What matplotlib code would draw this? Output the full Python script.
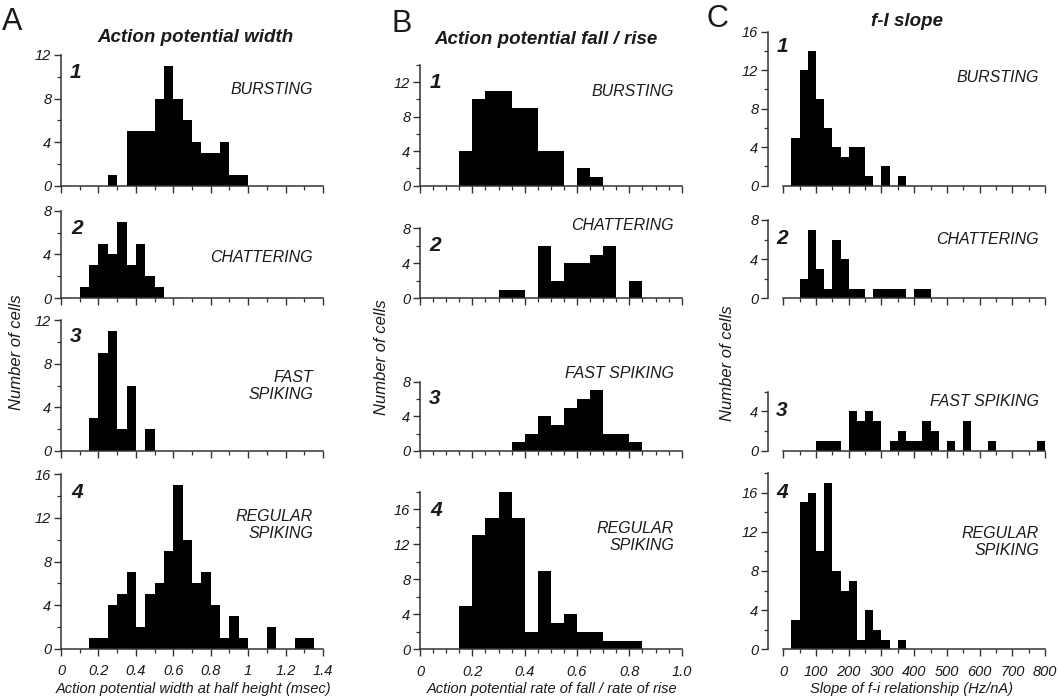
import numpy as np
import matplotlib
matplotlib.use('Agg')
import matplotlib.pyplot as plt
from matplotlib.ticker import MultipleLocator, FixedLocator

plt.rcParams['font.family'] = ['Liberation Sans', 'DejaVu Sans']

# ---- bin counts ----
# A: action potential width at half height (msec), bins of 0.05
width_bin = 0.05
width_starts = [0.25, 0.10, 0.15, 0.15]
width_bursting = [1, 0, 5, 5, 5, 8, 11, 8, 6, 4, 3, 3, 4, 1, 1]
width_chattering = [1, 3, 5, 4, 7, 3, 5, 2, 1]
width_fast = [3, 9, 11, 2, 6, 0, 2]
width_regular = [1, 1, 4, 5, 7, 2, 5, 6, 9, 15, 10, 6, 7, 4, 1, 3, 1, 0, 0, 2, 0, 0, 1, 1]

# B: rate of fall / rate of rise, bins of 0.05
ratio_bin = 0.05
ratio_starts = [0.15, 0.30, 0.35, 0.15]
ratio_bursting = [4, 10, 11, 11, 9, 9, 4, 4, 0, 2, 1]
ratio_chattering = [1, 1, 0, 6, 2, 4, 4, 5, 6, 0, 2]
ratio_fast = [1, 2, 4, 3, 5, 6, 7, 2, 2, 1]
ratio_regular = [5, 13, 15, 18, 15, 2, 9, 3, 4, 2, 2, 1, 1, 1]

# C: f-I slope (Hz/nA), bins of 25
slope_bin = 25
slope_starts = [25, 50, 100, 25]
slope_bursting = [5, 12, 14, 9, 6, 4, 3, 4, 4, 1, 0, 2, 0, 1]
slope_chattering = [2, 7, 3, 1, 6, 4, 1, 1, 0, 1, 1, 1, 1, 0, 1, 1]
slope_fast = [1, 1, 1, 0, 4, 3, 4, 3, 0, 1, 2, 1, 1, 3, 2, 0, 1, 0, 3, 0, 0, 1,
              0, 0, 0, 0, 0, 1]
slope_regular = [3, 15, 16, 10, 17, 8, 6, 7, 1, 4, 2, 1, 0, 1]

cell_types = ['BURSTING', 'CHATTERING', 'FAST SPIKING', 'REGULAR SPIKING']
y_tops = {'A': [12, 8, 12, 16], 'B': [14, 8, 8, 18], 'C': [16, 8, 6, 18]}

W, H = 1059, 698
fig = plt.figure(figsize=(W / 100, H / 100), dpi=100)
INK = '#1a1a1a'


def px_axes(l, t, r, b):
    return fig.add_axes([l / W, 1 - b / H, (r - l) / W, (b - t) / H])


def px_text(x, y, s, **kw):
    kw.setdefault('color', INK)
    fig.text(x / W, 1 - y / H, s, **kw)


def hist_panel(ax, start, bw, counts, xmax, ytop, xmajor, xminor, bottom_row, offset):
    edges = start + bw * np.arange(len(counts) + 1)
    ax.stairs(counts, edges, fill=True, color='black', lw=0)
    ax.set_xlim(0, xmax)
    ax.set_ylim(0, ytop)
    for s in ['top', 'right']:
        ax.spines[s].set_visible(False)
    for s in ['left', 'bottom']:
        ax.spines[s].set_linewidth(1.1)
        ax.spines[s].set_color('#333333')
    if offset:
        ax.spines['left'].set_position(('outward', offset))
    ax.xaxis.set_major_locator(MultipleLocator(xmajor))
    ax.xaxis.set_minor_locator(MultipleLocator(xminor))
    if ytop == 6:
        ax.yaxis.set_major_locator(FixedLocator([0, 4]))
        ax.yaxis.set_minor_locator(FixedLocator([2, 6]))
    else:
        ax.yaxis.set_major_locator(MultipleLocator(4))
        ax.yaxis.set_minor_locator(FixedLocator(np.arange(2, ytop + 1, 4)))
    ax.tick_params(which='major', length=5, width=1.0, color='#333333',
                   labelsize=10.5, labelcolor=INK, pad=2)
    ax.tick_params(axis='x', which='major', pad=6)
    ax.tick_params(which='minor', length=2.8, width=0.9, color='#333333')
    for lab in ax.get_yticklabels():
        lab.set_style('italic')
    if not bottom_row:
        ax.tick_params(axis='x', labelbottom=False)
    else:
        for lab in ax.get_xticklabels():
            lab.set_style('italic')
    ax.patch.set_alpha(0)


# axes frames in pixel coordinates (left, top, right, bottom)
frames = {
    'A': [(61, 55, 323, 185.7), (61, 210.7, 323, 298.3), (61, 320, 323, 451), (61, 474, 323, 649)],
    'B': [(420, 65, 681.7, 185.7), (420, 228.3, 681.7, 298.3), (420, 381.7, 681.7, 451), (420, 491.7, 681.7, 649.3)],
    'C': [(783.3, 31.7, 1045, 185.7), (783.3, 220, 1045, 298.3), (783.3, 391.7, 1045, 451), (783.3, 473, 1045, 649.3)],
}
columns = {
    'A': (width_starts, width_bin, [width_bursting, width_chattering, width_fast, width_regular], 1.4, 0.2, 0.1, 0),
    'B': (ratio_starts, ratio_bin, [ratio_bursting, ratio_chattering, ratio_fast, ratio_regular], 1.0, 0.2, 0.05, 0),
    'C': (slope_starts, slope_bin, [slope_bursting, slope_chattering, slope_fast, slope_regular], 800, 100, 50, 11),
}

for col, (starts, bw, series, xmax, xmaj, xmin, off) in columns.items():
    for i in range(4):
        ax = px_axes(*frames[col][i])
        hist_panel(ax, starts[i], bw, series[i], xmax, y_tops[col][i], xmaj, xmin, i == 3, off)

# bottom row tick label formats
axA = fig.axes[3]
axA.set_xticks([0, 0.2, 0.4, 0.6, 0.8, 1.0, 1.2, 1.4])
axA.set_xticklabels(['0', '0.2', '0.4', '0.6', '0.8', '1', '1.2', '1.4'], style='italic')
axB = fig.axes[7]
axB.set_xticks([0, 0.2, 0.4, 0.6, 0.8, 1.0])
axB.set_xticklabels(['0', '0.2', '0.4', '0.6', '0.8', '1.0'], style='italic')

# column letters and titles
px_text(12, 22, 'A', fontsize=22, ha='center', va='center')
px_text(402, 24, 'B', fontsize=22, ha='center', va='center')
px_text(717, 19, 'C', fontsize=22, ha='center', va='center')
px_text(196, 37, 'Action potential width', fontsize=13.5, weight='bold', style='italic', ha='center', va='center')
px_text(546, 39, 'Action potential fall / rise', fontsize=13.5, weight='bold', style='italic', ha='center', va='center')
px_text(907, 22, 'f-I slope', fontsize=13.5, weight='bold', style='italic', ha='center', va='center')

# panel numbers
num_pos = {'A': [(75, 73), (77, 228), (76, 337), (77, 492)],
           'B': [(435, 82), (435, 245), (435, 398), (436, 510)],
           'C': [(782, 47), (782, 238), (782, 410), (782, 492)]}
for col, pos in num_pos.items():
    for i, (x, y) in enumerate(pos):
        px_text(x, y, str(i + 1), fontsize=15, weight='bold', style='italic', ha='center', va='center')

# cell type labels
lab_kw = dict(fontsize=11.5, style='italic', ha='right', va='center', linespacing=1.15)
px_text(313, 90, cell_types[0], **lab_kw)
px_text(313, 258, cell_types[1], **lab_kw)
px_text(313, 386, 'FAST\nSPIKING', **lab_kw)
px_text(313, 525, 'REGULAR\nSPIKING', **lab_kw)
px_text(674, 92, cell_types[0], **lab_kw)
px_text(674, 225, cell_types[1], **lab_kw)
px_text(674, 373, cell_types[2], **lab_kw)
px_text(674, 537, 'REGULAR\nSPIKING', **lab_kw)
px_text(1039, 78, cell_types[0], **lab_kw)
px_text(1039, 240, cell_types[1], **lab_kw)
px_text(1039, 402, cell_types[2], **lab_kw)
px_text(1039, 542, 'REGULAR\nSPIKING', **lab_kw)

# axis labels
ylab_kw = dict(fontsize=12, style='italic', rotation=90, ha='center', va='center')
px_text(17, 352, 'Number of cells', **ylab_kw)
px_text(382, 357, 'Number of cells', **ylab_kw)
px_text(727, 363, 'Number of cells', **ylab_kw)
xlab_kw = dict(fontsize=10.5, style='italic', ha='center', va='center')
px_text(194, 689, 'Action potential width at half height (msec)', **xlab_kw)
px_text(552, 689, 'Action potential rate of fall / rate of rise', **xlab_kw)
px_text(912, 689, 'Slope of f-i relationship (Hz/nA)', **xlab_kw)

fig.savefig('out.png', dpi=100)
